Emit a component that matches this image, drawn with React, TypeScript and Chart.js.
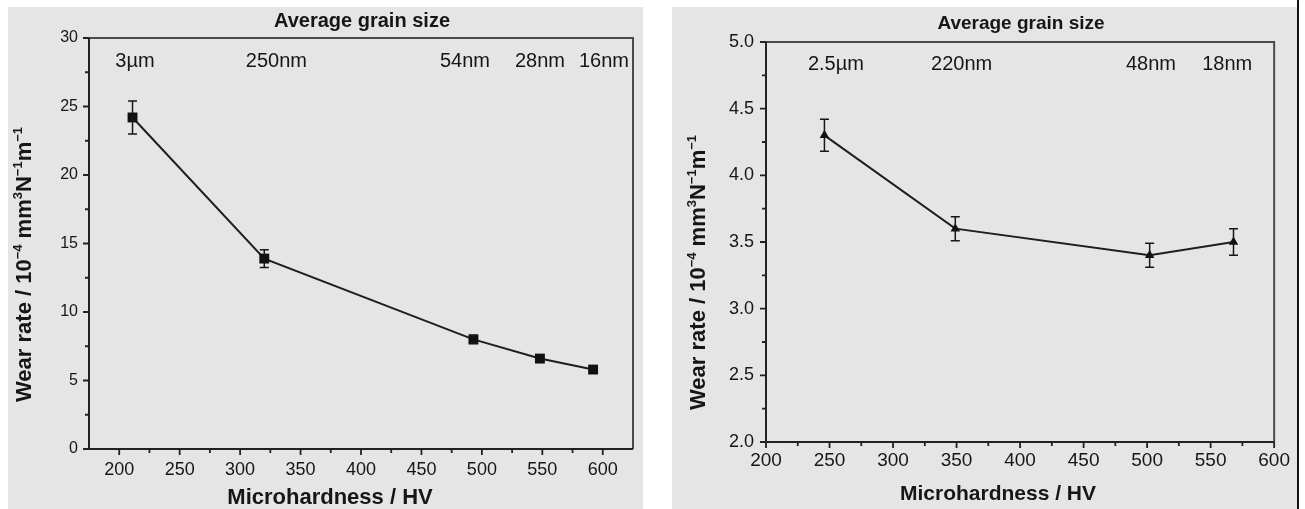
import React, { useEffect, useRef } from 'react';
import { Chart, registerables } from 'chart.js';

Chart.register(...registerables);

const FONT = '"Liberation Sans", Arial, Helvetica, sans-serif';
const INK = '#161616';

// ---- Left panel (square markers) ----
const hardnessA = [211, 320, 493, 548, 592];
const wearA = [24.2, 13.9, 8.0, 6.6, 5.8];
const errA = [1.2, 0.65, 0.3, 0, 0];
const grainA = ['3µm', '250nm', '54nm', '28nm', '16nm'];
const grainPosA = [213, 330, 486, 548, 601];
const xTicksA = [200, 250, 300, 350, 400, 450, 500, 550, 600];
const xTickLabelsA = ['200', '250', '300', '350', '400', '450', '500', '550', '600'];
const xMinorA = [225, 275, 325, 375, 425, 475, 525, 575];
const yTicksA = [0, 5, 10, 15, 20, 25, 30];
const yTickLabelsA = ['0', '5', '10', '15', '20', '25', '30'];
const yMinorA = [2.5, 7.5, 12.5, 17.5, 22.5, 27.5];

// ---- Right panel (triangle markers) ----
const hardnessB = [246, 349, 502, 568];
const wearB = [4.3, 3.6, 3.4, 3.5];
const errB = [0.12, 0.09, 0.09, 0.1];
const grainB = ['2.5µm', '220nm', '48nm', '18nm'];
const grainPosB = [255, 354, 503, 563];
const xTicksB = [200, 250, 300, 350, 400, 450, 500, 550, 600];
const xTickLabelsB = ['200', '250', '300', '350', '400', '450', '500', '550', '600'];
const xMinorB = [225, 275, 325, 375, 425, 475, 525, 575];
const yTicksB = [2.0, 2.5, 3.0, 3.5, 4.0, 4.5, 5.0];
const yTickLabelsB = ['2.0', '2.5', '3.0', '3.5', '4.0', '4.5', '5.0'];
const yMinorB = [2.25, 2.75, 3.25, 3.75, 4.25, 4.75];

const TITLE = 'Average grain size';
const X_TITLE = 'Microhardness / HV';
const Y_TITLE = [
  { t: 'Wear rate / 10', sup: false },
  { t: '−4', sup: true },
  { t: ' mm', sup: false },
  { t: '3', sup: true },
  { t: 'N', sup: false },
  { t: '−1', sup: true },
  { t: 'm', sup: false },
  { t: '−1', sup: true },
];

type PanelSpec = {
  left: number; top: number; width: number; height: number;
  area: { left: number; top: number; right: number; bottom: number };
  xMin: number; xMax: number; yMin: number; yMax: number;
  hardness: number[]; wear: number[]; err: number[];
  grain: string[]; grainPos: number[]; grainY: number;
  xTicks: number[]; xTickLabels: string[]; xMinor: number[];
  yTicks: number[]; yTickLabels: string[]; yMinor: number[];
  marker: 'rect' | 'triangle'; markerRadius: number;
  xTickFont: number; yTickFont: number; xTickPad: number; yTickPad: number;
  titleFont: number; titlePos: [number, number];
  xTitleFont: number; xTitlePos: [number, number];
  yTitlePos: [number, number];
};

const panelA: PanelSpec = {
  left: 8, top: 7, width: 635, height: 502,
  area: { left: 81, top: 31, right: 625, bottom: 442 },
  xMin: 175, xMax: 625, yMin: 0, yMax: 30,
  hardness: hardnessA, wear: wearA, err: errA,
  grain: grainA, grainPos: grainPosA, grainY: 28.3,
  xTicks: xTicksA, xTickLabels: xTickLabelsA, xMinor: xMinorA,
  yTicks: yTicksA, yTickLabels: yTickLabelsA, yMinor: yMinorA,
  marker: 'rect', markerRadius: 7,
  xTickFont: 18, yTickFont: 16, xTickPad: 10, yTickPad: 11,
  titleFont: 20, titlePos: [354, 14],
  xTitleFont: 22, xTitlePos: [322, 491],
  yTitlePos: [23, 395],
};

const panelB: PanelSpec = {
  left: 672, top: 7, width: 625, height: 502,
  area: { left: 94, top: 35, right: 604, bottom: 435 },
  xMin: 200, xMax: 600, yMin: 2, yMax: 5,
  hardness: hardnessB, wear: wearB, err: errB,
  grain: grainB, grainPos: grainPosB, grainY: 4.83,
  xTicks: xTicksB, xTickLabels: xTickLabelsB, xMinor: xMinorB,
  yTicks: yTicksB, yTickLabels: yTickLabelsB, yMinor: yMinorB,
  marker: 'triangle', markerRadius: 5.5,
  xTickFont: 19, yTickFont: 18, xTickPad: 7, yTickPad: 12,
  titleFont: 19, titlePos: [349, 17],
  xTitleFont: 21, xTitlePos: [326, 487],
  yTitlePos: [33, 403],
};

function makeDecor(p: PanelSpec) {
  return {
    id: 'decor',
    afterDatasetsDraw(chart: any) {
      const ctx = chart.ctx;
      const ys = chart.scales.y;
      const meta = chart.getDatasetMeta(0);
      ctx.save();
      ctx.strokeStyle = INK;
      ctx.lineWidth = 1.5;
      meta.data.forEach((pt: any, i: number) => {
        const e = p.err[i];
        if (!e) return;
        const top = ys.getPixelForValue(p.wear[i] + e);
        const bot = ys.getPixelForValue(p.wear[i] - e);
        ctx.beginPath();
        ctx.moveTo(pt.x, top); ctx.lineTo(pt.x, bot);
        ctx.moveTo(pt.x - 4.5, top); ctx.lineTo(pt.x + 4.5, top);
        ctx.moveTo(pt.x - 4.5, bot); ctx.lineTo(pt.x + 4.5, bot);
        ctx.stroke();
      });
      ctx.restore();
    },
    afterDraw(chart: any) {
      const ctx = chart.ctx;
      const xs = chart.scales.x;
      const ys = chart.scales.y;
      const a = chart.chartArea;
      ctx.save();

      // frame: darker axes on left/bottom, lighter box on top/right
      ctx.lineWidth = 2;
      ctx.strokeStyle = '#4a4a4a';
      ctx.beginPath();
      ctx.moveTo(a.left, a.top); ctx.lineTo(a.right, a.top); ctx.lineTo(a.right, a.bottom);
      ctx.stroke();
      ctx.strokeStyle = '#222';
      ctx.beginPath();
      ctx.moveTo(a.left, a.top); ctx.lineTo(a.left, a.bottom); ctx.lineTo(a.right, a.bottom);
      ctx.stroke();

      // outward tick marks
      ctx.lineWidth = 1.8;
      ctx.strokeStyle = '#222';
      ctx.beginPath();
      p.xTicks.forEach((v) => {
        const x = xs.getPixelForValue(v);
        ctx.moveTo(x, a.bottom); ctx.lineTo(x, a.bottom + 6);
      });
      p.xMinor.forEach((v) => {
        const x = xs.getPixelForValue(v);
        ctx.moveTo(x, a.bottom); ctx.lineTo(x, a.bottom + 4);
      });
      p.yTicks.forEach((v) => {
        const y = ys.getPixelForValue(v);
        ctx.moveTo(a.left, y); ctx.lineTo(a.left - 6, y);
      });
      p.yMinor.forEach((v) => {
        const y = ys.getPixelForValue(v);
        ctx.moveTo(a.left, y); ctx.lineTo(a.left - 4, y);
      });
      ctx.stroke();

      ctx.fillStyle = INK;
      ctx.textAlign = 'center';
      ctx.textBaseline = 'middle';

      // top title
      ctx.font = `bold ${p.titleFont}px ${FONT}`;
      ctx.fillText(TITLE, p.titlePos[0], p.titlePos[1]);

      // grain size annotations
      ctx.font = `20px ${FONT}`;
      const gy = ys.getPixelForValue(p.grainY);
      p.grain.forEach((g, i) => {
        ctx.fillText(g, xs.getPixelForValue(p.grainPos[i]), gy);
      });

      // x axis title
      ctx.font = `bold ${p.xTitleFont}px ${FONT}`;
      ctx.fillText(X_TITLE, p.xTitlePos[0], p.xTitlePos[1]);

      // y axis title with superscripts, rotated
      ctx.translate(p.yTitlePos[0], p.yTitlePos[1]);
      ctx.rotate(-Math.PI / 2);
      ctx.textAlign = 'left';
      ctx.textBaseline = 'alphabetic';
      let cx = 0;
      Y_TITLE.forEach((seg) => {
        ctx.font = seg.sup ? `bold 13px ${FONT}` : `bold 22px ${FONT}`;
        ctx.fillText(seg.t, cx, seg.sup ? -9 : 0);
        cx += ctx.measureText(seg.t).width;
      });
      ctx.restore();
    },
  };
}

function Panel({ p }: { p: PanelSpec }) {
  const ref = useRef<HTMLCanvasElement>(null);
  useEffect(() => {
    if (!ref.current) return;
    const labelFor = (vals: number[], labels: string[]) => (v: any) => {
      const i = vals.findIndex((t) => Math.abs(t - Number(v)) < 1e-9);
      return i >= 0 ? labels[i] : '';
    };
    const chart = new Chart(ref.current, {
      type: 'scatter',
      data: {
        datasets: [
          {
            data: p.hardness.map((x, i) => ({ x, y: p.wear[i] })),
            showLine: true,
            borderColor: '#1e1e1e',
            borderWidth: 2,
            tension: 0,
            pointStyle: p.marker,
            pointRadius: p.markerRadius,
            pointHoverRadius: p.markerRadius,
            pointBackgroundColor: '#111',
            pointBorderColor: '#111',
            pointBorderWidth: 0,
          },
        ],
      },
      options: {
        responsive: false,
        animation: false,
        devicePixelRatio: 1,
        events: [],
        layout: {
          padding: { left: 0, top: p.area.top, right: p.width - p.area.right, bottom: 0 },
        },
        plugins: {
          legend: { display: false },
          tooltip: { enabled: false },
          title: { display: false },
        },
        scales: {
          x: {
            type: 'linear',
            position: 'bottom',
            min: p.xMin,
            max: p.xMax,
            grid: { display: false, drawTicks: false },
            border: { display: false },
            ticks: {
              padding: p.xTickPad,
              color: INK,
              font: { family: FONT, size: p.xTickFont },
              maxRotation: 0,
              autoSkip: false,
              callback: labelFor(p.xTicks, p.xTickLabels),
            },
            afterBuildTicks: (s: any) => {
              s.ticks = p.xTicks.map((v) => ({ value: v }));
            },
            afterFit: (s: any) => {
              s.height = p.height - p.area.bottom;
            },
          },
          y: {
            type: 'linear',
            position: 'left',
            min: p.yMin,
            max: p.yMax,
            grid: { display: false, drawTicks: false },
            border: { display: false },
            ticks: {
              padding: p.yTickPad,
              color: INK,
              font: { family: FONT, size: p.yTickFont },
              autoSkip: false,
              callback: labelFor(p.yTicks, p.yTickLabels),
            },
            afterBuildTicks: (s: any) => {
              s.ticks = p.yTicks.map((v) => ({ value: v }));
            },
            afterFit: (s: any) => {
              s.width = p.area.left;
            },
          },
        },
      } as any,
      plugins: [makeDecor(p)],
    });
    return () => chart.destroy();
  }, [p]);

  return (
    <canvas
      ref={ref}
      width={p.width}
      height={p.height}
      style={{
        position: 'absolute',
        left: p.left,
        top: p.top,
        width: p.width,
        height: p.height,
        background: '#e5e5e5',
      }}
    />
  );
}

export default function App() {
  return (
    <div
      style={{
        position: 'fixed',
        left: 0,
        top: 0,
        width: 1305,
        height: 509,
        background: '#ffffff',
        overflow: 'hidden',
      }}
    >
      <Panel p={panelA} />
      <Panel p={panelB} />
      <div
        style={{
          position: 'absolute',
          left: 1297,
          top: 0,
          width: 2,
          height: 509,
          background: '#111',
        }}
      />
    </div>
  );
}
